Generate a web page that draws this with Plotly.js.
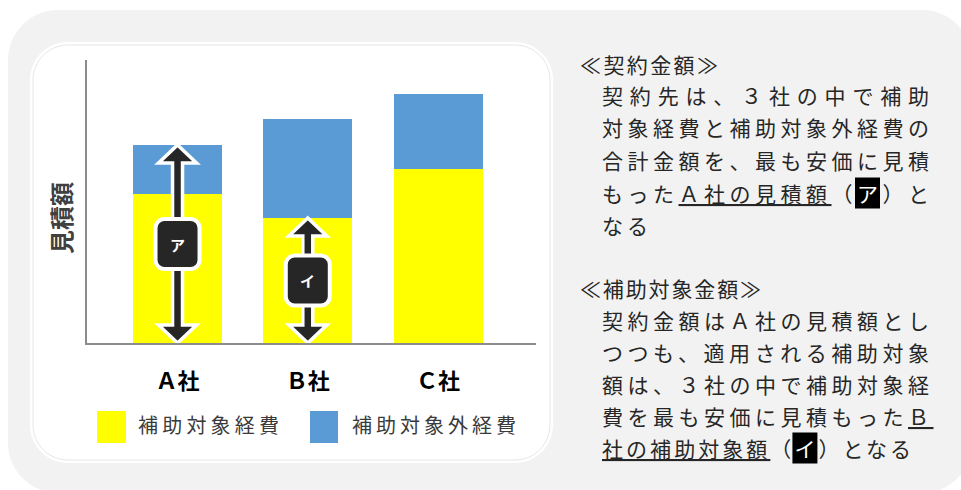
<!DOCTYPE html>
<html><head><meta charset="utf-8">
<script src="https://cdn.plot.ly/plotly-3.0.1.min.js"></script>
<style>html,body{margin:0;padding:0;background:#fff}#chart{width:961px;height:490px}</style>
<style id="spacing"></style>
</head><body><div id="chart"></div>
<script>
// ---------- data ----------
const categories = ['Ａ社', 'Ｂ社', 'Ｃ社'];
const seriesNames = ['補助対象経費', '補助対象外経費'];
const subsidized = [149, 125, 174];      // 補助対象経費
const nonSubsidized = [49, 99, 75];      // 補助対象外経費
const seriesColors = ['#ffff00', '#5b9bd5'];
const yAxisTitle = '見積額';
const markerLabels = ['ア', 'イ'];
const heading1 = '≪契約金額≫';
const block1Lines = [
  '契約先は、３社の中で補助',
  '対象経費と補助対象外経費の',
  '合計金額を、最も安価に見積',
  'もった<span style="text-decoration:underline;text-decoration-thickness:2px">Ａ社の見積額</span>（<span style="color:#ffffff">ア</span>）と',
  'なる'
];
const heading2 = '≪補助対象金額≫';
const block2Lines = [
  '契約金額はＡ社の見積額とし',
  'つつも、適用される補助対象',
  '額は、３社の中で補助対象経',
  '費を最も安価に見積もった<span style="text-decoration:underline;text-decoration-thickness:2px">Ｂ</span>',
  '<span style="text-decoration:underline;text-decoration-thickness:2px">社の補助対象額</span>（<span style="color:#ffffff">イ</span>）となる'
];

// ---------- layout helpers ----------
const W = 961, H = 490;
const FONT = '"Noto Sans CJK JP", "Noto Sans", sans-serif';
const px = x => x / W;
const py = y => 1 - y / H;
function P(x, y) { return px(x).toFixed(5) + ',' + py(y).toFixed(5); }
function roundRect(x0, y0, x1, y1, r) {
  const k = 0.4477 * r;
  return `M${P(x0 + r, y0)} L${P(x1 - r, y0)} C${P(x1 - r + (r - k), y0)} ${P(x1, y0 + k)} ${P(x1, y0 + r)}` +
    ` L${P(x1, y1 - r)} C${P(x1, y1 - k)} ${P(x1 - k, y1)} ${P(x1 - r, y1)}` +
    ` L${P(x0 + r, y1)} C${P(x0 + k, y1)} ${P(x0, y1 - k)} ${P(x0, y1 - r)}` +
    ` L${P(x0, y0 + r)} C${P(x0, y0 + k)} ${P(x0 + k, y0)} ${P(x0 + r, y0)} Z`;
}
function arrowPath(top) {
  const hw = 19, sw = 5, hl = 18;
  return `M0,${top} L${hw},${top - hl} L${sw},${top - hl} L${sw},${hl} L${hw},${hl} L0,0 ` +
    `L${-hw},${hl} L${-sw},${hl} L${-sw},${top - hl} L${-hw},${top - hl} Z`;
}
function pixBox(hw, hh, r) {
  const k = 0.4477 * r;
  return `M${-hw + r},${-hh} L${hw - r},${-hh} C${hw - k},${-hh} ${hw},${-hh + k} ${hw},${-hh + r} ` +
    `L${hw},${hh - r} C${hw},${hh - k} ${hw - k},${hh} ${hw - r},${hh} ` +
    `L${-hw + r},${hh} C${-hw + k},${hh} ${-hw},${hh - k} ${-hw},${hh - r} ` +
    `L${-hw},${-hh + r} C${-hw},${-hh + k} ${-hw + k},${-hh} ${-hw + r},${-hh} Z`;
}

// ---------- traces ----------
const barWidth = 0.683;
const traces = [
  { type: 'bar', name: seriesNames[0], x: categories, y: subsidized, width: barWidth,
    marker: { color: seriesColors[0], line: { width: 0 } }, hoverinfo: 'skip' },
  { type: 'bar', name: seriesNames[1], x: categories, y: nonSubsidized, width: barWidth,
    marker: { color: seriesColors[1], line: { width: 0 } }, hoverinfo: 'skip' }
];

// ---------- shapes ----------
const baseShapes = [
  { type: 'path', xref: 'paper', yref: 'paper', layer: 'below', path: roundRect(8, 10, 972, 493, 50),
    fillcolor: '#f2f2f2', line: { width: 0 } },
  { type: 'path', xref: 'paper', yref: 'paper', layer: 'below', path: roundRect(30, 42, 553, 463, 38),
    fillcolor: '#ffffff', line: { width: 0 } },
  { type: 'path', xref: 'paper', yref: 'paper', layer: 'below', path: roundRect(33, 45, 550, 460, 35),
    fillcolor: 'rgba(0,0,0,0)', line: { width: 1, color: '#e6e6e6' } },
  // legend swatches
  { type: 'rect', xref: 'paper', yref: 'paper', x0: px(97), x1: px(126), y0: py(443), y1: py(411),
    fillcolor: seriesColors[0], line: { width: 0 } },
  { type: 'rect', xref: 'paper', yref: 'paper', x0: px(310), x1: px(338), y0: py(443), y1: py(411),
    fillcolor: seriesColors[1], line: { width: 0 } }
];
// double arrows: ア = total of Ａ社, イ = subsidized of Ｂ社
const arrowSpecs = [
  { cat: categories[0], top: subsidized[0] + nonSubsidized[0], label: markerLabels[0] },
  { cat: categories[1], top: subsidized[1], label: markerLabels[1] }
];
const annotations = [];
arrowSpecs.forEach(a => {
  baseShapes.push({ type: 'path', xref: 'x', yref: 'y', xsizemode: 'pixel', xanchor: a.cat,
    path: arrowPath(a.top), fillcolor: '#262626', line: { color: '#ffffff', width: 3.5 } });
  baseShapes.push({ type: 'path', xref: 'x', yref: 'y', xsizemode: 'pixel', ysizemode: 'pixel',
    xanchor: a.cat, yanchor: a.top / 2, path: pixBox(22, 25, 9),
    fillcolor: '#262626', line: { color: '#ffffff', width: 4 } });
  annotations.push({ xref: 'x', yref: 'y', x: a.cat, y: a.top / 2, text: a.label, showarrow: false,
    font: { family: FONT, size: 15, color: '#ffffff', weight: 'bold' } });
});

// ---------- annotations ----------
const fits = [];
function addText(text, x, y, size, color, width, opts) {
  annotations.push(Object.assign({ xref: 'paper', yref: 'paper', x: px(x), y: py(y), xanchor: 'left',
    yanchor: 'middle', align: 'left', text: text, showarrow: false, borderpad: 0,
    font: { family: FONT, size: size, color: color } }, opts || {}));
  if (width) fits.push({ idx: annotations.length - 1, width: width });
  return annotations.length - 1;
}
// y-axis title
annotations.push({ xref: 'paper', yref: 'paper', x: px(60), y: py(218), xanchor: 'center', yanchor: 'middle',
  text: yAxisTitle, textangle: -90, showarrow: false,
  font: { family: FONT, size: 24, color: '#404040', weight: 'bold' } });
// legend labels
addText(seriesNames[0], 137, 424, 20, '#3a3a3a', 141);
addText(seriesNames[1], 351, 424, 20, '#3a3a3a', 164);
// right-hand text
const rightIdx = [];
rightIdx.push(addText(heading1, 579, 64, 21, '#262626', 138));
const b1y = [95, 127, 160, 193, 225];
block1Lines.forEach((t, i) => rightIdx.push(addText(t, 601, b1y[i], 21, '#262626', i < 4 ? 327 : 46)));
rightIdx.push(addText(heading2, 579, 288, 21, '#262626', 181));
const b2y = [320, 352, 384, 416, 448];
block2Lines.forEach((t, i) => rightIdx.push(addText(t, 601, b2y[i], 21, '#262626', i < 4 ? 327 : 309)));

const layout = {
  width: W, height: H, margin: { l: 0, r: 0, t: 0, b: 0 },
  paper_bgcolor: '#ffffff', plot_bgcolor: 'rgba(0,0,0,0)',
  barmode: 'stack', bargap: 0, showlegend: false,
  font: { family: FONT },
  xaxis: { domain: [px(87), px(536)], range: [-0.695, 2.752], type: 'category',
    showline: true, linecolor: '#8c8c8c', linewidth: 2, ticks: '', showgrid: false, zeroline: false,
    tickfont: { family: FONT, size: 22, color: '#000000', weight: 'bold' }, ticklabelstandoff: 18,
    fixedrange: true },
  yaxis: { domain: [py(343), py(60)], range: [0, 283], showline: true, linecolor: '#8c8c8c', linewidth: 2,
    ticks: '', showticklabels: false, showgrid: false, zeroline: false, fixedrange: true },
  shapes: baseShapes,
  annotations: annotations
};

const gd = document.getElementById('chart');
Plotly.newPlot(gd, traces, layout, { staticPlot: true, displayModeBar: false }).then(() => {
  const rules = [];
  fits.forEach(f => {
    const node = gd.querySelector(`.annotation[data-index="${f.idx}"] text.annotation-text`);
    if (!node) return;
    const nat = node.getComputedTextLength();
    const n = Array.from(node.textContent).length;
    const L = n > 1 ? (f.width - nat) / (n - 1) : 0;
    rules.push(`.annotation[data-index="${f.idx}"] text.annotation-text{letter-spacing:${L.toFixed(2)}px}`);
  });
  document.getElementById('spacing').textContent = rules.join('\n');
  const gb = gd.getBoundingClientRect();
  const hl = [];
  rightIdx.forEach(idx => {
    const g = gd.querySelector(`.annotation[data-index="${idx}"]`);
    if (!g) return;
    g.querySelectorAll('tspan').forEach(ts => {
      if (markerLabels.includes(ts.textContent)) {
        const r = ts.getBoundingClientRect();
        const l = r.left - gb.left;
        const cy = (r.top + r.bottom) / 2 - gb.top;
        hl.push({ type: 'rect', xref: 'paper', yref: 'paper', layer: 'above',
          x0: px(l - 2), x1: px(l + 23), y0: py(cy + 15.5), y1: py(cy - 15.5),
          fillcolor: '#000000', line: { width: 0 } });
      }
    });
  });
  return Plotly.relayout(gd, { shapes: baseShapes.concat(hl) });
});
</script>
</body></html>
